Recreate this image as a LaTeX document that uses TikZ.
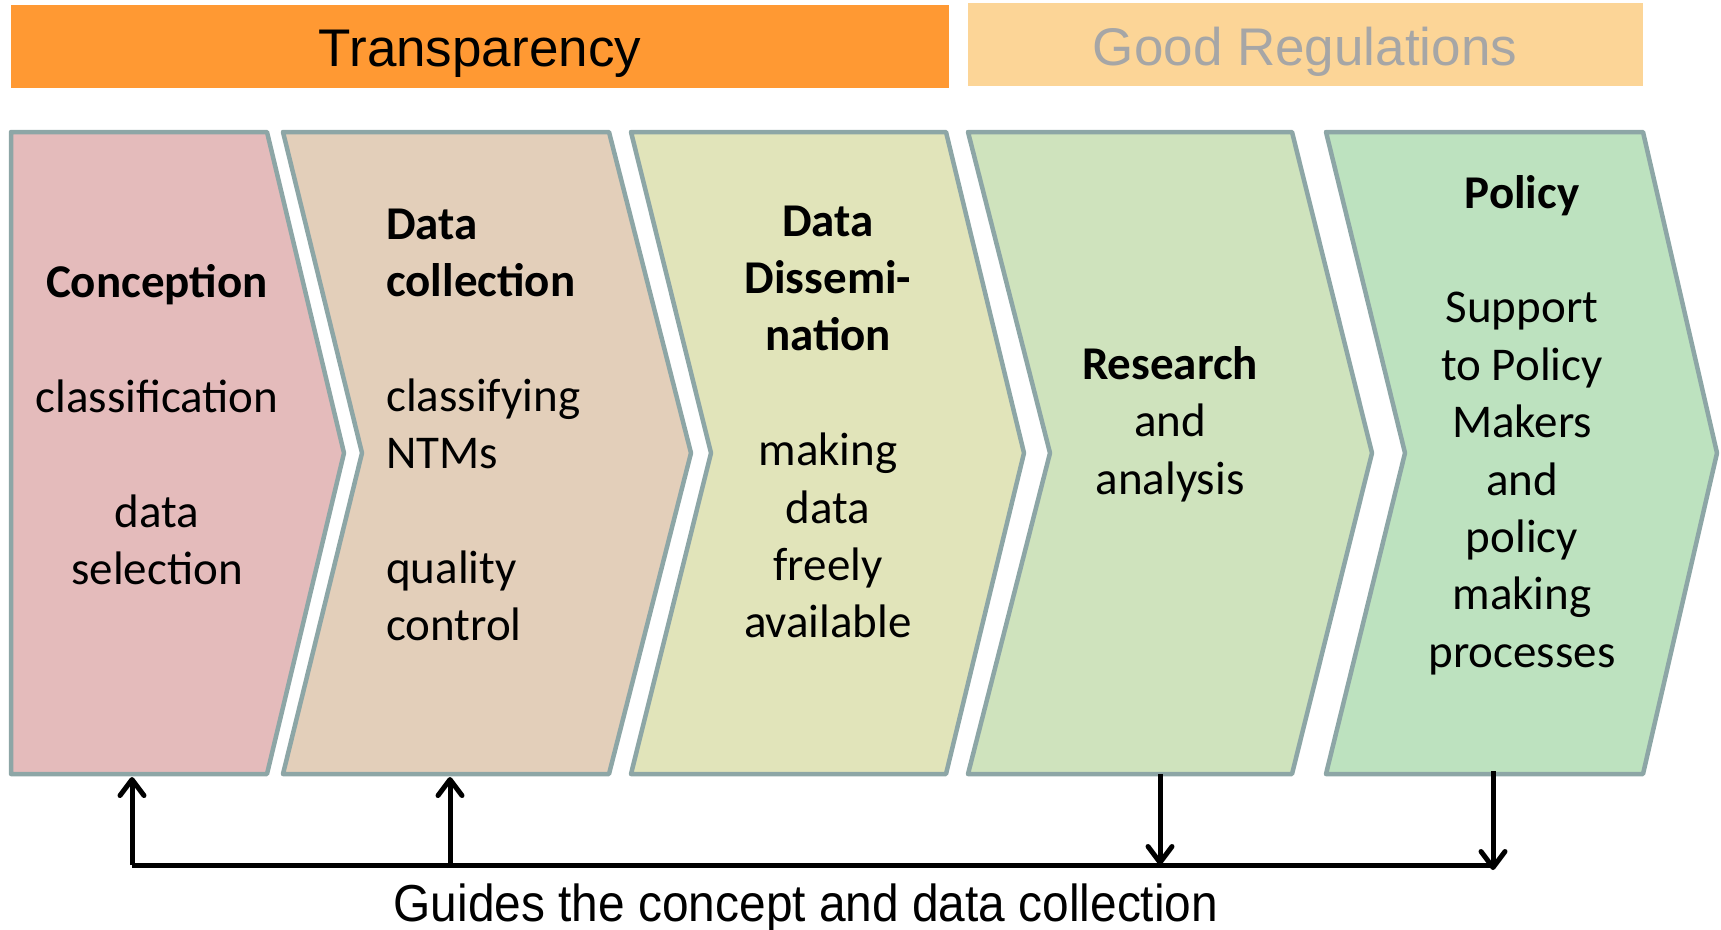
\documentclass[tikz,border=0pt]{standalone}
\usepackage{fontspec}
\setmainfont{Carlito}
\newfontfamily\headfont{Liberation Sans}
\newfontfamily\notefont[FakeStretch=0.92]{Liberation Sans}
\usetikzlibrary{arrows.meta}
\definecolor{orangebar}{HTML}{FF9933}
\definecolor{lightbar}{HTML}{FCD597}
\definecolor{greytext}{HTML}{A6A6A6}
\definecolor{stageedge}{HTML}{8DA6A6}
\definecolor{pinkfill}{HTML}{E4BBBB}
\definecolor{tanfill}{HTML}{E3CFBA}
\definecolor{olivefill}{HTML}{E1E4BA}
\definecolor{mintfill}{HTML}{CFE3BD}
\definecolor{greenfill}{HTML}{BDE2BF}
\tikzstyle{banner}=[inner sep=0,font=\headfont\fontsize{53}{60}\selectfont]
\tikzstyle{stage}=[draw=stageedge,line width=4.5pt,line join=round]
\tikzstyle{stagetext}=[inner sep=0,align=center,font=\fontsize{47}{57.4}\selectfont]
\tikzstyle{guide}=[line width=5pt]
\tikzstyle{feedback}=[guide,-{Straight Barb[length=16pt,width=24pt,round]}]

\begin{document}
\begin{tikzpicture}[x=1pt,y=-1pt]
  \useasboundingbox (0,0) rectangle (1721,929);
  \fill[orangebar] (11,5) rectangle (949,88);
  \fill[lightbar] (968,3) rectangle (1643,86);
  \node[banner] (transparency) at (480,54) {Transparency};
  \node[banner,text=greytext] (regulations) at (1305,52) {Good Regulations};

  \draw[stage,fill=pinkfill] (11,132) -- (267,132) -- (344,453) -- (267,774) -- (11,774) -- cycle;
  \draw[stage,fill=tanfill] (283,132) -- (609,132) -- (691,453) -- (609,774) -- (283,774) -- (362,453) -- cycle;
  \draw[stage,fill=olivefill] (631,132) -- (946,132) -- (1024,453) -- (946,774) -- (631,774) -- (711,453) -- cycle;
  \draw[stage,fill=mintfill] (968,132) -- (1292,132) -- (1372,453) -- (1292,774) -- (968,774) -- (1050,453) -- cycle;
  \draw[stage,fill=greenfill] (1326,132) -- (1643,132) -- (1717,453) -- (1643,774) -- (1326,774) -- (1405,453) -- cycle;

  \node[stagetext] (conception) at (157,425)
    {\textbf{Conception}\\[57.4pt]classification\\[57.4pt]data\\selection};
  \node[stagetext,align=left,anchor=west] (collection) at (386,425)
    {\textbf{Data}\\\textbf{collection}\\[57.4pt]classifying\\NTMs\\[57.4pt]quality\\control};
  \node[stagetext] (dissemination) at (828,422)
    {\textbf{Data}\\\textbf{Dissemi-}\\\textbf{nation}\\[57.4pt]making\\data\\freely\\available};
  \node[stagetext] (research) at (1170,424) {\textbf{Research}\\and\\analysis};
  \node[stagetext] (policy) at (1522,425)
    {\textbf{Policy}\\[57.4pt]Support\\to Policy\\Makers\\and\\policy\\making\\processes};

  \coordinate (hubwest) at (132,865);
  \coordinate (hubcollect) at (450,865);
  \coordinate (hubresearch) at (1160,865);
  \coordinate (hubeast) at (1493,865);
  \coordinate (conceptionfoot) at (132,777);
  \coordinate (collectionfoot) at (450,777);
  \coordinate (researchfoot) at (1160,774);
  \coordinate (policyfoot) at (1493,771);
  \draw[guide] (hubwest) -- (hubeast);
  \draw[feedback] (hubwest) -- (conceptionfoot);
  \draw[feedback] (hubcollect) -- (collectionfoot);
  \draw[feedback] (researchfoot) -- (hubresearch);
  \draw[feedback] (policyfoot) -- ([yshift=-5pt]hubeast);

  \node[anchor=base,inner sep=0,font=\notefont\fontsize{52}{60}\selectfont] (guides) at (806,921)
    {Guides the concept and data collection};
\end{tikzpicture}
\end{document}
